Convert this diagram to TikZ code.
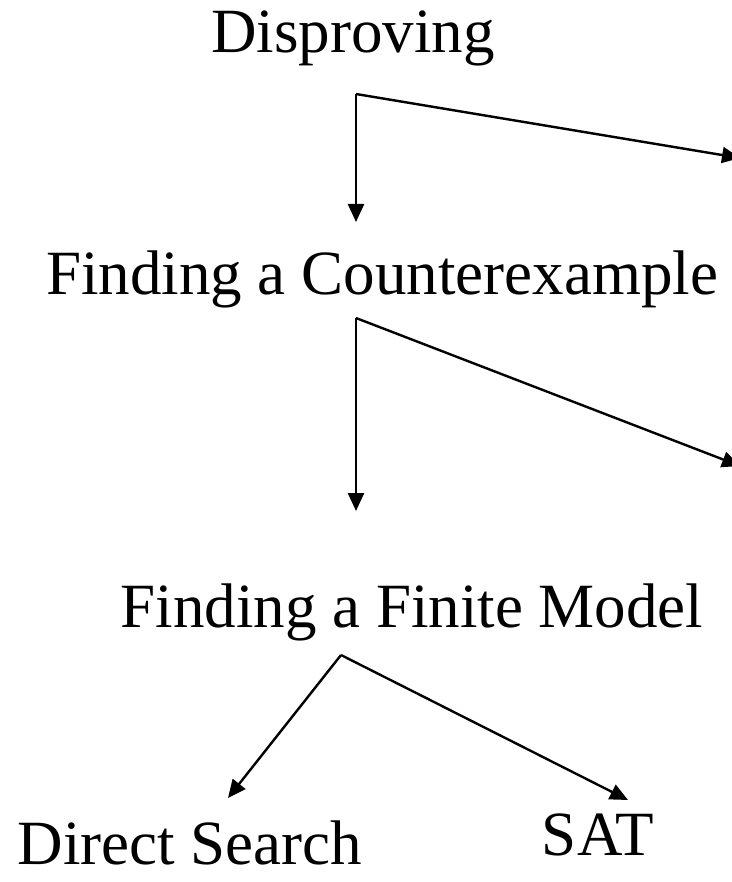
\documentclass[tikz,border=0pt]{standalone}
\usepackage{fontspec}
\setmainfont{Liberation Serif}
\usetikzlibrary{arrows.meta}

\begin{document}
\begin{tikzpicture}
  [x=1pt, y=-1pt,
   line width=2.4pt,
   >={Triangle[length=18pt,width=16pt]},
   label/.style={inner sep=0pt, anchor=base, font=\fontsize{63}{75}\selectfont}
  ]
  \useasboundingbox (0,0) rectangle (731,882);

  \node[label] (D)  at (353,53)  {Disproving};
  \node[label] (C)  at (382,294) {Finding a Counterexample};
  \node[label] (F)  at (412,627) {Finding a Finite Model};
  \node[label] (DS) at (190,864) {Direct Search};
  \node[label] (S)  at (598,855) {SAT};

  % corners and free ends
  \coordinate (d0) at (356,94);
  \coordinate (d1) at (356,222);
  \coordinate (d2) at (740,158);
  \coordinate (c0) at (356,318);
  \coordinate (c1) at (356,511);
  \coordinate (c2) at (740,466);
  \coordinate (f0) at (341,655);
  \coordinate (f1) at (228,798);
  \coordinate (f2) at (628,800);

  \draw[->] (d0) -- (d1);
  \draw[->] (d0) -- (d2);
  \draw[->] (c0) -- (c1);
  \draw[->] (c0) -- (c2);
  \draw[->] (f0) -- (f1);
  \draw[->] (f0) -- (f2);
\end{tikzpicture}
\end{document}
